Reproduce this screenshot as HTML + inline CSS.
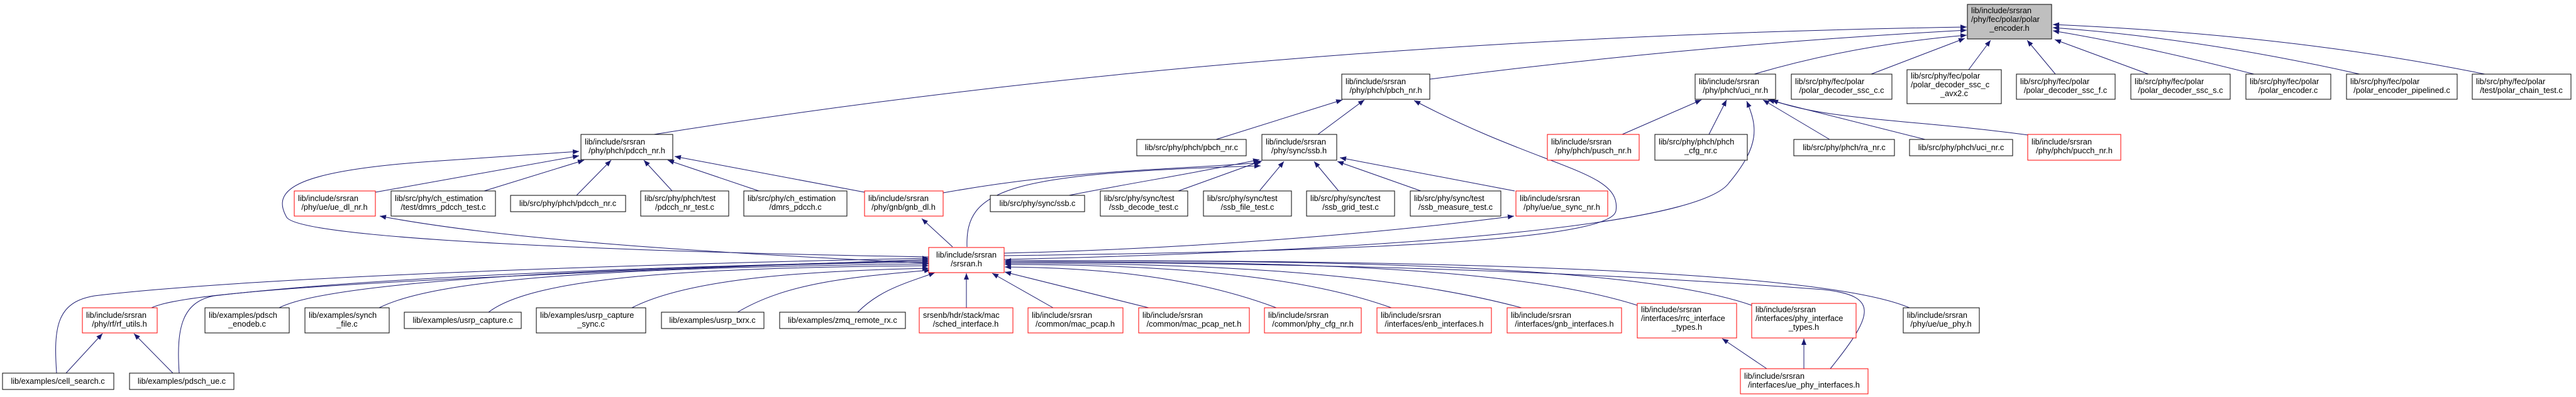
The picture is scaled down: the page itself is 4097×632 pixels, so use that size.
<!DOCTYPE html>
<html><head><meta charset="utf-8">
<style>
html,body{margin:0;padding:0;background:#fff;}
svg{display:block;}
text{font-family:"Liberation Sans",sans-serif;font-size:12.8px;fill:#000;}
.n{fill:#fff;stroke:#000;stroke-width:1;}
.r{fill:#fff;stroke:#ff0000;stroke-width:1;}
.e{fill:none;stroke:#191970;stroke-width:1;marker-end:url(#a);}
</style></head><body>
<svg width="4097" height="632" viewBox="0 0 4097 632" xmlns="http://www.w3.org/2000/svg">
<defs><marker id="a" markerUnits="userSpaceOnUse" markerWidth="11" markerHeight="9" refX="10" refY="4" orient="auto"><path d="M0,0 L10,4 L0,8 z" fill="#191970"/></marker></defs>
<g transform="translate(0,1)">
<!-- edges to polar_encoder.h -->
<path class="e" d="M1040,213 Q2000,60 3128,42"/>
<path class="e" d="M2274,125 Q2700,70 3128,47"/>
<path class="e" d="M2790,117 Q2950,70 3128,55"/>
<path class="e" d="M2976,117 L3125,60"/>
<path class="e" d="M3131,110 L3166,63"/>
<path class="e" d="M3269,117 L3224,63"/>
<path class="e" d="M3417,117 L3268,62"/>
<path class="e" d="M3585,117 Q3400,70 3265,48"/>
<path class="e" d="M3753,117 Q3500,60 3265,43"/>
<path class="e" d="M3952,117 Q3650,55 3265,38"/>

<path class="e" d="M597,305 L921,247"/>
<path class="e" d="M770,303 L929,254"/>
<path class="e" d="M917,310 L972,254"/>
<path class="e" d="M1069,303 L1024,254"/>
<path class="e" d="M1207,303 L1062,254"/>
<path class="e" d="M1375,305 L1073,248"/>
<path class="e" d="M1477,408 C1000,400 480,380 456,345 C430,300 470,270 700,255 C800,248 880,243 921,240"/>

<path class="e" d="M1934,221 L2135,158"/>
<path class="e" d="M2096,213 L2170,158"/>
<path class="e" d="M1597,406 C2100,400 2560,385 2570,335 C2580,270 2460,270 2249,159"/>

<path class="e" d="M1700,310 C1800,290 1900,275 2003,253"/>
<path class="e" d="M1874,303 L2007,255"/>
<path class="e" d="M2003,303 L2042,256"/>
<path class="e" d="M2129,303 L2090,256"/>
<path class="e" d="M2260,303 L2127,256"/>
<path class="e" d="M2409,303 L2131,250"/>
<path class="e" d="M1500,306 C1700,270 1850,270 2005,258"/>
<path class="e" d="M1538,392 C1535,300 1600,275 2005,263"/>

<path class="e" d="M2580,213 L2706,158"/>
<path class="e" d="M2718,213 L2746,158"/>
<path class="e" d="M2910,221 L2804,158"/>
<path class="e" d="M3062,221 L2812,158"/>
<path class="e" d="M3226,214 C3050,190 2900,190 2818,158"/>
<path class="e" d="M1597,412 C2200,398 2700,360 2750,290 C2800,230 2795,200 2778,160"/>

<path class="e" d="M1477,418 C1100,400 800,380 604,343"/>
<path class="e" d="M1515,392 L1466,347"/>
<path class="e" d="M1597,402 C1900,395 2200,370 2408,343"/>

<path class="e" d="M90,593 C85,520 90,480 150,470 C400,440 1000,420 1477,410"/>
<path class="e" d="M241,489 C300,460 700,440 1477,412"/>
<path class="e" d="M285,593 C280,520 290,480 340,470 C600,440 1000,425 1477,414"/>
<path class="e" d="M444,489 C520,450 900,425 1477,416"/>
<path class="e" d="M603,489 C700,440 1000,425 1477,419"/>
<path class="e" d="M777,496 C850,440 1100,425 1477,422"/>
<path class="e" d="M1005,489 C1100,440 1300,430 1477,426"/>
<path class="e" d="M1173,496 C1250,450 1350,440 1480,429"/>
<path class="e" d="M1364,496 C1400,460 1440,450 1487,433"/>
<path class="e" d="M1537,489 L1537,434"/>
<path class="e" d="M1675,489 L1578,434"/>
<path class="e" d="M1827,489 L1598,432"/>
<path class="e" d="M2030,489 C1900,440 1750,425 1598,424"/>
<path class="e" d="M2213,489 C2050,430 1800,420 1598,420"/>
<path class="e" d="M2420,489 C2200,430 1900,418 1598,418"/>
<path class="e" d="M2604,485 C2400,420 2000,415 1598,416"/>
<path class="e" d="M2786,485 C2600,420 2100,413 1598,414"/>
<path class="e" d="M3037,489 C2900,430 2300,412 1598,414"/>
<path class="e" d="M2911,586 C2980,500 2990,470 2900,460 C2500,430 2100,418 1598,416"/>

<path class="e" d="M105,593 L163,530"/>
<path class="e" d="M275,593 L213,530"/>
<path class="e" d="M2810,586 L2739,538"/>
<path class="e" d="M2869,586 L2869,538"/>

<rect x="3129" y="6" width="134" height="55" fill="#bfbfbf" stroke="#000"/>
<text x="3135" y="20">lib/include/srsran</text><text x="3135" y="34">/phy/fec/polar/polar</text><text x="3196" y="48" text-anchor="middle">_encoder.h</text>

<rect class="n" x="924" y="213" width="146" height="40"/><text x="930" y="229">lib/include/srsran</text><text x="997" y="243" text-anchor="middle">/phy/phch/pdcch_nr.h</text>
<rect class="n" x="2134" y="117" width="140" height="40"/><text x="2140" y="133">lib/include/srsran</text><text x="2204" y="147" text-anchor="middle">/phy/phch/pbch_nr.h</text>
<rect class="n" x="2696" y="117" width="128" height="40"/><text x="2702" y="133">lib/include/srsran</text><text x="2760" y="147" text-anchor="middle">/phy/phch/uci_nr.h</text>
<rect class="n" x="2849" y="117" width="160" height="40"/><text x="2855" y="133">lib/src/phy/fec/polar</text><text x="2929" y="147" text-anchor="middle">/polar_decoder_ssc_c.c</text>
<rect class="n" x="3033" y="110" width="150" height="54"/><text x="3039" y="124">lib/src/phy/fec/polar</text><text x="3039" y="138">/polar_decoder_ssc_c</text><text x="3108" y="152" text-anchor="middle">_avx2.c</text>
<rect class="n" x="3207" y="117" width="157" height="40"/><text x="3213" y="133">lib/src/phy/fec/polar</text><text x="3285" y="147" text-anchor="middle">/polar_decoder_ssc_f.c</text>
<rect class="n" x="3389" y="117" width="158" height="40"/><text x="3395" y="133">lib/src/phy/fec/polar</text><text x="3468" y="147" text-anchor="middle">/polar_decoder_ssc_s.c</text>
<rect class="n" x="3572" y="117" width="135" height="40"/><text x="3578" y="133">lib/src/phy/fec/polar</text><text x="3639" y="147" text-anchor="middle">/polar_encoder.c</text>
<rect class="n" x="3732" y="117" width="176" height="40"/><text x="3738" y="133">lib/src/phy/fec/polar</text><text x="3820" y="147" text-anchor="middle">/polar_encoder_pipelined.c</text>
<rect class="n" x="3932" y="117" width="157" height="40"/><text x="3938" y="133">lib/src/phy/fec/polar</text><text x="4010" y="147" text-anchor="middle">/test/polar_chain_test.c</text>

<rect class="n" x="1808" y="221" width="174" height="26"/><text x="1895" y="238" text-anchor="middle">lib/src/phy/phch/pbch_nr.c</text>
<rect class="n" x="2007" y="213" width="119" height="41"/><text x="2013" y="229">lib/include/srsran</text><text x="2066" y="243" text-anchor="middle">/phy/sync/ssb.h</text>
<rect class="r" x="2461" y="213" width="146" height="41"/><text x="2467" y="229">lib/include/srsran</text><text x="2534" y="243" text-anchor="middle">/phy/phch/pusch_nr.h</text>
<rect class="n" x="2632" y="213" width="147" height="41"/><text x="2638" y="229">lib/src/phy/phch/phch</text><text x="2705" y="243" text-anchor="middle">_cfg_nr.c</text>
<rect class="n" x="2853" y="221" width="160" height="26"/><text x="2933" y="238" text-anchor="middle">lib/src/phy/phch/ra_nr.c</text>
<rect class="n" x="3037" y="221" width="164" height="26"/><text x="3119" y="238" text-anchor="middle">lib/src/phy/phch/uci_nr.c</text>
<rect class="r" x="3225" y="213" width="148" height="41"/><text x="3231" y="229">lib/include/srsran</text><text x="3299" y="243" text-anchor="middle">/phy/phch/pucch_nr.h</text>

<rect class="r" x="468" y="303" width="129" height="40"/><text x="474" y="319">lib/include/srsran</text><text x="532" y="333" text-anchor="middle">/phy/ue/ue_dl_nr.h</text>
<rect class="n" x="622" y="303" width="166" height="40"/><text x="628" y="319">lib/src/phy/ch_estimation</text><text x="705" y="333" text-anchor="middle">/test/dmrs_pdcch_test.c</text>
<rect class="n" x="812" y="310" width="183" height="26"/><text x="903" y="327" text-anchor="middle">lib/src/phy/phch/pdcch_nr.c</text>
<rect class="n" x="1019" y="303" width="140" height="40"/><text x="1025" y="319">lib/src/phy/phch/test</text><text x="1089" y="333" text-anchor="middle">/pdcch_nr_test.c</text>
<rect class="n" x="1183" y="303" width="164" height="40"/><text x="1189" y="319">lib/src/phy/ch_estimation</text><text x="1265" y="333" text-anchor="middle">/dmrs_pdcch.c</text>
<rect class="r" x="1375" y="303" width="125" height="40"/><text x="1381" y="319">lib/include/srsran</text><text x="1437" y="333" text-anchor="middle">/phy/gnb/gnb_dl.h</text>
<rect class="n" x="1575" y="310" width="150" height="26"/><text x="1650" y="327" text-anchor="middle">lib/src/phy/sync/ssb.c</text>
<rect class="n" x="1750" y="303" width="139" height="40"/><text x="1756" y="319">lib/src/phy/sync/test</text><text x="1819" y="333" text-anchor="middle">/ssb_decode_test.c</text>
<rect class="n" x="1914" y="303" width="140" height="40"/><text x="1920" y="319">lib/src/phy/sync/test</text><text x="1984" y="333" text-anchor="middle">/ssb_file_test.c</text>
<rect class="n" x="2078" y="303" width="140" height="40"/><text x="2084" y="319">lib/src/phy/sync/test</text><text x="2148" y="333" text-anchor="middle">/ssb_grid_test.c</text>
<rect class="n" x="2243" y="303" width="144" height="40"/><text x="2249" y="319">lib/src/phy/sync/test</text><text x="2315" y="333" text-anchor="middle">/ssb_measure_test.c</text>
<rect class="r" x="2411" y="303" width="146" height="40"/><text x="2417" y="319">lib/include/srsran</text><text x="2484" y="333" text-anchor="middle">/phy/ue/ue_sync_nr.h</text>

<rect class="r" x="1477" y="393" width="120" height="40"/><text x="1537" y="409" text-anchor="middle">lib/include/srsran</text><text x="1537" y="423" text-anchor="middle">/srsran.h</text>

<rect class="r" x="131" y="489" width="119" height="40"/><text x="137" y="505">lib/include/srsran</text><text x="190" y="519" text-anchor="middle">/phy/rf/rf_utils.h</text>
<rect class="n" x="326" y="489" width="134" height="40"/><text x="332" y="505">lib/examples/pdsch</text><text x="393" y="519" text-anchor="middle">_enodeb.c</text>
<rect class="n" x="485" y="489" width="134" height="40"/><text x="491" y="505">lib/examples/synch</text><text x="552" y="519" text-anchor="middle">_file.c</text>
<rect class="n" x="643" y="496" width="186" height="26"/><text x="736" y="513" text-anchor="middle">lib/examples/usrp_capture.c</text>
<rect class="n" x="853" y="489" width="174" height="40"/><text x="859" y="505">lib/examples/usrp_capture</text><text x="940" y="519" text-anchor="middle">_sync.c</text>
<rect class="n" x="1052" y="496" width="163" height="26"/><text x="1133" y="513" text-anchor="middle">lib/examples/usrp_txrx.c</text>
<rect class="n" x="1240" y="496" width="200" height="26"/><text x="1340" y="513" text-anchor="middle">lib/examples/zmq_remote_rx.c</text>
<rect class="r" x="1462" y="489" width="149" height="40"/><text x="1468" y="505">srsenb/hdr/stack/mac</text><text x="1536" y="519" text-anchor="middle">/sched_interface.h</text>
<rect class="r" x="1635" y="489" width="151" height="40"/><text x="1641" y="505">lib/include/srsran</text><text x="1710" y="519" text-anchor="middle">/common/mac_pcap.h</text>
<rect class="r" x="1811" y="489" width="176" height="40"/><text x="1817" y="505">lib/include/srsran</text><text x="1899" y="519" text-anchor="middle">/common/mac_pcap_net.h</text>
<rect class="r" x="2011" y="489" width="154" height="40"/><text x="2017" y="505">lib/include/srsran</text><text x="2088" y="519" text-anchor="middle">/common/phy_cfg_nr.h</text>
<rect class="r" x="2190" y="489" width="182" height="40"/><text x="2196" y="505">lib/include/srsran</text><text x="2281" y="519" text-anchor="middle">/interfaces/enb_interfaces.h</text>
<rect class="r" x="2397" y="489" width="182" height="40"/><text x="2403" y="505">lib/include/srsran</text><text x="2488" y="519" text-anchor="middle">/interfaces/gnb_interfaces.h</text>
<rect class="r" x="2604" y="482" width="158" height="55"/><text x="2610" y="496">lib/include/srsran</text><text x="2610" y="510">/interfaces/rrc_interface</text><text x="2683" y="524" text-anchor="middle">_types.h</text>
<rect class="r" x="2786" y="482" width="166" height="55"/><text x="2792" y="496">lib/include/srsran</text><text x="2792" y="510">/interfaces/phy_interface</text><text x="2869" y="524" text-anchor="middle">_types.h</text>
<rect class="n" x="3027" y="489" width="121" height="40"/><text x="3033" y="505">lib/include/srsran</text><text x="3087" y="519" text-anchor="middle">/phy/ue/ue_phy.h</text>

<rect class="n" x="4" y="593" width="177" height="26"/><text x="92" y="610" text-anchor="middle">lib/examples/cell_search.c</text>
<rect class="n" x="206" y="593" width="166" height="26"/><text x="289" y="610" text-anchor="middle">lib/examples/pdsch_ue.c</text>
<rect class="r" x="2768" y="586" width="203" height="40"/><text x="2774" y="602">lib/include/srsran</text><text x="2869" y="616" text-anchor="middle">/interfaces/ue_phy_interfaces.h</text>
</g>
</svg>
</body></html>
